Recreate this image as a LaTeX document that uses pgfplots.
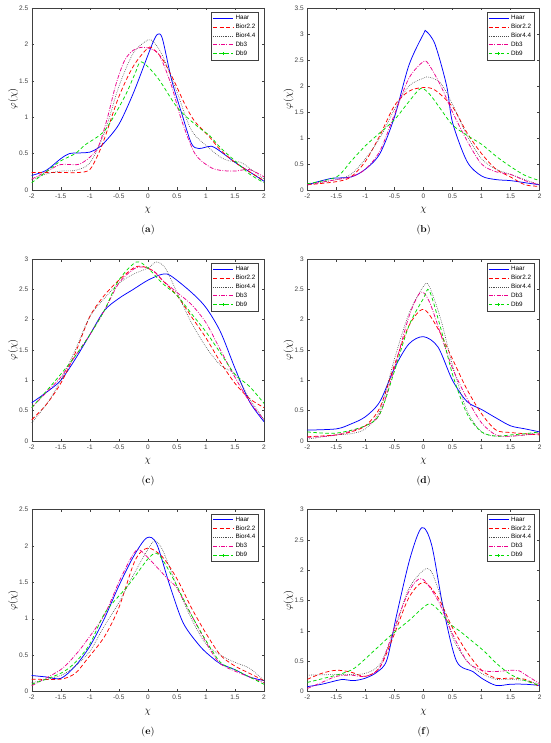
\documentclass[border=0pt]{standalone}
\usepackage{pgfplots}
\pgfplotsset{compat=1.18}
\usepackage{fontspec}
\newfontfamily\sansf{Liberation Sans}
\definecolor{axgray}{gray}{0.25}
\definecolor{mgreen}{RGB}{0,220,0}
\definecolor{dgray}{gray}{0.3}
\tikzset{
  haar/.style={color=blue, draw=blue},
  bior22/.style={color=red, draw=red, dash pattern=on 4pt off 2.5pt},
  bior44/.style={color=dgray, draw=dgray, line width=0.6pt, dash pattern=on 0.7pt off 1.2pt},
  dbthree/.style={color=magenta, draw=magenta, dash pattern=on 4pt off 1.5pt on 0.8pt off 1.5pt},
  dbnine/.style={color=mgreen, draw=mgreen, dash pattern=on 3.5pt off 2.5pt},
}
\pgfplotsset{
  panel/.style={
    scale only axis, width=232.3pt, height=182pt, anchor=north west,
    xmin=-2, xmax=2, ymin=0,
    xtick={-2,-1.5,...,2},
    ytick distance=0.5,
    tick align=inside, tick pos=both,
    major tick length=2.5pt,
    axis line style={axgray, line width=0.4pt},
    every tick/.style={axgray, line width=0.4pt},
    tick label style={font=\sansf\fontsize{6.5}{7}\selectfont, text=axgray},
    /pgf/number format/assume math mode=true,
    xlabel={$\chi$}, ylabel={$\varphi(\chi)$},
    label style={font=\fontsize{9}{10}\selectfont},
    every axis x label/.style={at={(axis description cs:0.5,-0.114)}, anchor=center},
    every axis y label/.style={at={(axis description cs:-0.08,0.5)}, anchor=center, rotate=90},
    legend style={at={(rel axis cs:0.978,0.978)}, anchor=north east, draw=axgray, line width=0.4pt,
      font=\sansf\fontsize{6.3}{7}\selectfont, inner sep=1.2pt, row sep=-1.2pt,
      cells={anchor=west}},
    every axis plot/.append style={smooth, tension=0.5, line width=0.75pt},
  },
  L1/.style={legend image code/.code={\draw[haar, solid, line width=0.8pt] (0pt,0pt) -- (20pt,0pt);}},
  L2/.style={legend image code/.code={\draw[bior22, line width=0.8pt] (0pt,0pt) -- (20pt,0pt);}},
  L3/.style={legend image code/.code={\draw[bior44, line width=0.7pt] (0pt,0pt) -- (20pt,0pt);}},
  L4/.style={legend image code/.code={\draw[dbthree, line width=0.8pt] (0pt,0pt) -- (20pt,0pt);}},
  L5/.style={legend image code/.code={\draw[dbnine, line width=0.8pt] (0pt,0pt) -- (20pt,0pt);
     \draw[draw=mgreen, solid, line width=0.6pt] (10pt,-1.4pt) -- (10pt,1.4pt) (8.6pt,0pt) -- (11.4pt,0pt);}},
}
\begin{document}
\begin{tikzpicture}
\useasboundingbox (0pt,0pt) rectangle (550pt,-743pt);
% (a)
\begin{axis}[panel, at={(31.7pt,-8pt)}, ymax=2.5]
\addplot[haar, L1] coordinates {(-2,0.2)(-1.75,0.27)(-1.5,0.43)(-1.35,0.5)(-1.15,0.51)(-1,0.52)(-0.87,0.57)(-0.75,0.65)(-0.5,0.9)(-0.25,1.33)(0,1.85)(0.1,2.05)(0.17,2.14)(0.25,2.08)(0.41,1.51)(0.58,1.06)(0.75,0.64)(0.88,0.57)(1.1,0.6)(1.3,0.5)(1.5,0.38)(1.75,0.25)(2,0.12)};
\addplot[bior22, L2] coordinates {(-2,0.24)(-1.5,0.24)(-1.2,0.24)(-1,0.28)(-0.85,0.5)(-0.75,0.7)(-0.5,1.28)(-0.25,1.7)(0,1.95)(0.1,1.93)(0.25,1.8)(0.45,1.5)(0.63,1.19)(0.8,0.95)(1.06,0.73)(1.25,0.55)(1.5,0.38)(1.75,0.25)(2,0.13)};
\addplot[bior44, L3] coordinates {(-2,0.14)(-1.75,0.22)(-1.5,0.26)(-1.25,0.27)(-1,0.37)(-0.75,0.78)(-0.5,1.42)(-0.25,1.88)(0,2.06)(0.1,2.03)(0.25,1.85)(0.5,1.35)(0.75,0.82)(1.05,0.58)(1.25,0.45)(1.4,0.4)(1.6,0.38)(1.75,0.3)(2,0.15)};
\addplot[dbthree, L4] coordinates {(-2,0.15)(-1.75,0.25)(-1.5,0.35)(-1.2,0.35)(-1,0.45)(-0.85,0.6)(-0.7,0.98)(-0.55,1.45)(-0.4,1.78)(-0.25,1.92)(-0.1,1.96)(0.05,1.94)(0.2,1.85)(0.4,1.45)(0.58,0.96)(0.81,0.5)(1.06,0.32)(1.25,0.27)(1.5,0.26)(1.75,0.28)(2,0.18)};
\addplot[dbnine, L5] coordinates {(-2,0.1)(-1.75,0.25)(-1.5,0.4)(-1.25,0.5)(-1.08,0.62)(-0.74,0.82)(-0.4,1.28)(-0.22,1.6)(-0.11,1.76)(0.17,1.54)(0.51,1.13)(0.86,0.87)(1.06,0.75)(1.25,0.58)(1.5,0.4)(1.75,0.22)(2,0.1)};
\legend{Haar,Bior2.2,Bior4.4,Db3,Db9}
\end{axis}
% (b)
\begin{axis}[panel, at={(307.3pt,-8pt)}, ymax=3.5]
\addplot[haar, L1] coordinates {(-2,0.1)(-1.6,0.22)(-1.25,0.25)(-1,0.4)(-0.75,0.7)(-0.5,1.4)(-0.25,2.4)(0,3.0)(0.05,3.05)(0.2,2.8)(0.4,2.0)(0.5,1.3)(0.75,0.55)(1,0.27)(1.25,0.2)(1.5,0.18)(1.75,0.14)(2,0.1)};
\addplot[bior22, L2] coordinates {(-2,0.1)(-1.5,0.16)(-1.25,0.25)(-1,0.55)(-0.75,1.05)(-0.5,1.62)(-0.25,1.9)(0,1.97)(0.2,1.92)(0.5,1.6)(0.75,1.1)(1,0.7)(1.25,0.4)(1.5,0.25)(1.75,0.1)(2,0.07)};
\addplot[bior44, L3] coordinates {(-2,0.1)(-1.5,0.2)(-1.25,0.3)(-1,0.6)(-0.75,1.0)(-0.5,1.55)(-0.25,2.0)(0,2.15)(0.1,2.17)(0.3,2.05)(0.5,1.65)(0.75,1.05)(1,0.6)(1.25,0.4)(1.5,0.3)(1.75,0.2)(2,0.1)};
\addplot[dbthree, L4] coordinates {(-2,0.1)(-1.5,0.2)(-1.25,0.25)(-1,0.4)(-0.75,0.75)(-0.5,1.45)(-0.25,2.15)(0,2.47)(0.1,2.4)(0.3,2.0)(0.5,1.5)(0.75,0.95)(1,0.5)(1.25,0.35)(1.5,0.3)(1.75,0.18)(2,0.1)};
\addplot[dbnine, L5] coordinates {(-2,0.12)(-1.5,0.25)(-1.25,0.55)(-1,0.85)(-0.75,1.1)(-0.5,1.35)(-0.25,1.7)(-0.05,1.95)(0.1,1.85)(0.3,1.55)(0.5,1.25)(0.75,1.05)(1,0.88)(1.25,0.65)(1.5,0.45)(1.75,0.28)(2,0.18)};
\legend{Haar,Bior2.2,Bior4.4,Db3,Db9}
\end{axis}
% (c)
\begin{axis}[panel, at={(31.7pt,-259pt)}, ymax=3]
\addplot[haar, L1] coordinates {(-2,0.63)(-1.75,0.8)(-1.5,1.0)(-1.25,1.35)(-1,1.75)(-0.75,2.15)(-0.5,2.35)(-0.25,2.5)(0,2.65)(0.25,2.75)(0.4,2.72)(0.75,2.45)(1,2.2)(1.25,1.8)(1.5,1.2)(1.75,0.65)(2,0.32)};
\addplot[bior22, L2] coordinates {(-2,0.35)(-1.75,0.6)(-1.5,0.95)(-1.25,1.45)(-1,2.05)(-0.75,2.4)(-0.5,2.65)(-0.25,2.85)(-0.1,2.88)(0.1,2.8)(0.25,2.65)(0.5,2.4)(0.75,2.05)(1,1.7)(1.25,1.3)(1.5,0.95)(1.75,0.7)(2,0.55)};
\addplot[bior44, L3] coordinates {(-2,0.3)(-1.75,0.6)(-1.5,1.0)(-1.25,1.5)(-1,2.05)(-0.75,2.35)(-0.5,2.6)(-0.25,2.75)(0,2.85)(0.15,2.95)(0.3,2.85)(0.5,2.45)(0.75,1.95)(1,1.55)(1.25,1.25)(1.5,1.1)(1.75,0.7)(2,0.35)};
\addplot[dbthree, L4] coordinates {(-2,0.55)(-1.75,0.8)(-1.5,1.05)(-1.25,1.4)(-1,1.75)(-0.75,2.15)(-0.5,2.6)(-0.25,2.83)(-0.1,2.87)(0.1,2.8)(0.25,2.65)(0.5,2.45)(0.75,2.25)(1,1.95)(1.25,1.5)(1.5,1.05)(1.75,0.65)(2,0.35)};
\addplot[dbnine, L5] coordinates {(-2,0.55)(-1.75,0.82)(-1.5,1.1)(-1.25,1.4)(-1,1.75)(-0.75,2.15)(-0.5,2.65)(-0.2,2.95)(0,2.85)(0.25,2.6)(0.5,2.4)(0.75,2.1)(1,1.8)(1.25,1.45)(1.5,1.1)(1.75,0.9)(2,0.62)};
\legend{Haar,Bior2.2,Bior4.4,Db3,Db9}
\end{axis}
% (d)
\begin{axis}[panel, at={(307.3pt,-259pt)}, ymax=3]
\addplot[haar, L1] coordinates {(-2,0.18)(-1.5,0.2)(-1.25,0.28)(-1,0.4)(-0.75,0.65)(-0.5,1.2)(-0.25,1.6)(0,1.72)(0.25,1.55)(0.5,1.0)(0.75,0.65)(1,0.52)(1.25,0.38)(1.5,0.25)(1.75,0.2)(2,0.15)};
\addplot[bior22, L2] coordinates {(-2,0.07)(-1.5,0.1)(-1.25,0.15)(-1,0.25)(-0.75,0.55)(-0.5,1.25)(-0.25,1.9)(0,2.17)(0.25,1.85)(0.5,1.35)(0.75,0.85)(1,0.45)(1.25,0.18)(1.5,0.14)(1.75,0.12)(2,0.1)};
\addplot[bior44, L3] coordinates {(-2,0.03)(-1.5,0.1)(-1.25,0.12)(-1,0.2)(-0.75,0.5)(-0.5,1.35)(-0.25,2.1)(0,2.55)(0.1,2.55)(0.3,2.0)(0.5,1.25)(0.75,0.5)(1,0.15)(1.25,0.08)(1.5,0.08)(1.75,0.1)(2,0.15)};
\addplot[dbthree, L4] coordinates {(-2,0.06)(-1.5,0.1)(-1,0.25)(-0.75,0.45)(-0.5,1.2)(-0.25,2.05)(-0.05,2.45)(0.1,2.3)(0.3,1.75)(0.5,1.2)(0.75,0.7)(1,0.3)(1.25,0.1)(1.5,0.08)(1.75,0.1)(2,0.12)};
\addplot[dbnine, L5] coordinates {(-2,0.15)(-1.5,0.13)(-1,0.25)(-0.75,0.45)(-0.5,1.15)(-0.25,1.9)(0,2.35)(0.1,2.48)(0.3,1.85)(0.5,1.1)(0.75,0.45)(1,0.15)(1.25,0.08)(1.5,0.1)(1.75,0.12)(2,0.15)};
\legend{Haar,Bior2.2,Bior4.4,Db3,Db9}
\end{axis}
% (e)
\begin{axis}[panel, at={(31.7pt,-509.5pt)}, ymax=2.5]
\addplot[haar, L1] coordinates {(-2,0.22)(-1.75,0.2)(-1.5,0.18)(-1.25,0.35)(-1,0.62)(-0.75,1.0)(-0.5,1.45)(-0.25,1.85)(-0.02,2.11)(0.15,2.03)(0.38,1.45)(0.61,0.94)(0.9,0.62)(1.1,0.47)(1.25,0.38)(1.5,0.3)(1.75,0.2)(2,0.15)};
\addplot[bior22, L2] coordinates {(-2,0.17)(-1.5,0.17)(-1.25,0.25)(-1.05,0.44)(-0.75,0.75)(-0.5,1.15)(-0.22,1.8)(0,1.97)(0.25,1.85)(0.5,1.55)(0.75,1.15)(1,0.8)(1.25,0.5)(1.5,0.35)(1.75,0.25)(2,0.15)};
\addplot[bior44, L3] coordinates {(-2,0.12)(-1.5,0.22)(-1.25,0.35)(-1,0.55)(-0.75,0.9)(-0.5,1.22)(-0.25,1.6)(0,1.95)(0.12,2.07)(0.25,1.95)(0.5,1.45)(0.75,1.0)(1,0.65)(1.25,0.5)(1.5,0.4)(1.75,0.32)(2,0.15)};
\addplot[dbthree, L4] coordinates {(-2,0.08)(-1.5,0.3)(-1.25,0.5)(-1.08,0.67)(-0.75,1.05)(-0.5,1.5)(-0.3,1.82)(-0.17,1.95)(0,1.84)(0.35,1.54)(0.5,1.42)(0.75,1.05)(1.07,0.58)(1.25,0.38)(1.5,0.28)(1.75,0.2)(2,0.12)};
\addplot[dbnine, L5] coordinates {(-2,0.1)(-1.5,0.25)(-1.25,0.4)(-1,0.65)(-0.74,1.08)(-0.4,1.4)(-0.25,1.55)(0,1.82)(0.15,1.9)(0.3,1.75)(0.5,1.45)(0.75,1.05)(1,0.7)(1.25,0.4)(1.5,0.3)(1.75,0.2)(2,0.1)};
\legend{Haar,Bior2.2,Bior4.4,Db3,Db9}
\end{axis}
% (f)
\begin{axis}[panel, at={(307.3pt,-509.5pt)}, ymax=3]
\addplot[haar, L1] coordinates {(-2,0.08)(-1.75,0.12)(-1.5,0.18)(-1.4,0.2)(-1.2,0.18)(-1,0.22)(-0.8,0.32)(-0.63,0.52)(-0.46,1.27)(-0.23,2.2)(-0.03,2.7)(0.14,2.42)(0.34,1.38)(0.57,0.5)(0.85,0.33)(1,0.22)(1.25,0.1)(1.5,0.12)(1.75,0.12)(2,0.1)};
\addplot[bior22, L2] coordinates {(-2,0.2)(-1.75,0.3)(-1.5,0.35)(-1.25,0.32)(-1,0.25)(-0.75,0.4)(-0.5,0.95)(-0.25,1.55)(0,1.8)(0.25,1.55)(0.5,1.05)(0.75,0.65)(1,0.35)(1.25,0.22)(1.5,0.22)(1.75,0.2)(2,0.08)};
\addplot[bior44, L3] coordinates {(-2,0.27)(-1.5,0.28)(-1.25,0.28)(-1,0.3)(-0.75,0.45)(-0.5,1.0)(-0.25,1.7)(0.07,2.03)(0.25,1.7)(0.5,0.9)(0.75,0.5)(1,0.3)(1.25,0.2)(1.5,0.2)(1.75,0.18)(2,0.12)};
\addplot[dbthree, L4] coordinates {(-2,0.05)(-1.75,0.15)(-1.5,0.25)(-1.25,0.27)(-1,0.25)(-0.75,0.4)(-0.5,1.05)(-0.25,1.65)(-0.03,1.86)(0.25,1.5)(0.5,0.95)(0.75,0.5)(1,0.35)(1.25,0.33)(1.5,0.35)(1.65,0.34)(1.75,0.28)(2,0.13)};
\addplot[dbnine, L5] coordinates {(-2,0.15)(-1.5,0.27)(-1.25,0.35)(-1.08,0.47)(-0.58,0.91)(-0.25,1.17)(0.08,1.44)(0.25,1.35)(0.45,1.12)(0.62,1.0)(0.8,0.86)(1.05,0.66)(1.25,0.47)(1.5,0.28)(1.75,0.18)(2,0.1)};
\legend{Haar,Bior2.2,Bior4.4,Db3,Db9}
\end{axis}
\node[font=\fontsize{10}{12}\selectfont] at (148pt,-230pt) {(\textbf{a})};
\node[font=\fontsize{10}{12}\selectfont] at (423.6pt,-230pt) {(\textbf{b})};
\node[font=\fontsize{10}{12}\selectfont] at (148pt,-481pt) {(\textbf{c})};
\node[font=\fontsize{10}{12}\selectfont] at (423.6pt,-481pt) {(\textbf{d})};
\node[font=\fontsize{10}{12}\selectfont] at (148pt,-732pt) {(\textbf{e})};
\node[font=\fontsize{10}{12}\selectfont] at (423.6pt,-732pt) {(\textbf{f})};
\end{tikzpicture}
\end{document}
